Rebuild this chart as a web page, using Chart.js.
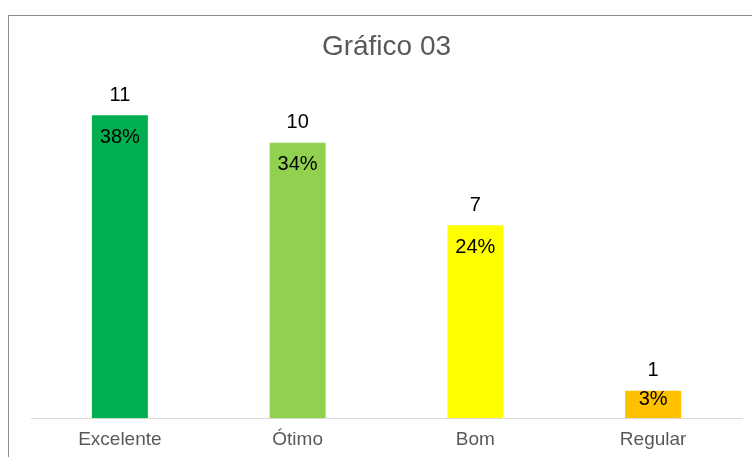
<!DOCTYPE html>
<html>
<head>
<meta charset="utf-8">
<script src="https://cdn.jsdelivr.net/npm/chart.js@4"></script>
<style>
  html,body{margin:0;padding:0;background:#fff;overflow:hidden}
  #wrap{position:absolute;left:0;top:0;width:752px;height:457px}
  #frame{position:absolute;left:8px;top:15px;width:800px;height:500px;border:1px solid #8c8c8c;box-sizing:border-box;pointer-events:none}
</style>
</head>
<body>
<div id="wrap">
  <div id="frame"></div>
  <canvas id="chart" width="752" height="457"></canvas>
</div>
<script>
const categories = ['Excelente', 'Ótimo', 'Bom', 'Regular'];
const counts = [11, 10, 7, 1];
const percentLabels = ['38%', '34%', '24%', '3%'];
const barColors = ['#00B050', '#92D050', '#FFFF00', '#FFC000'];

const FONT = '"Liberation Sans", Arial, sans-serif';

// draws the count above each bar and the percentage just inside its top
const barLabels = {
  id: 'barLabels',
  afterDatasetsDraw(chart){
    const ctx = chart.ctx;
    const meta = chart.getDatasetMeta(0);
    const base = chart.scales.y.getPixelForValue(0);
    ctx.save();
    ctx.font = '20px ' + FONT;
    ctx.fillStyle = '#000';
    ctx.textAlign = 'center';
    ctx.textBaseline = 'middle';
    meta.data.forEach((bar, i)=>{
      ctx.fillText(String(counts[i]), bar.x, bar.y - 20);
      const py = Math.min(bar.y + 22, (bar.y + base)/2 - 5);
      ctx.fillText(percentLabels[i], bar.x, py);
    });
    ctx.restore();
  }
};

new Chart(document.getElementById('chart').getContext('2d'), {
  type: 'bar',
  data: {
    labels: categories,
    datasets: [{
      data: counts,
      backgroundColor: barColors,
      borderWidth: 0,
      categoryPercentage: 1,
      barPercentage: 0.315
    }]
  },
  options: {
    responsive: false,
    animation: false,
    layout: { padding: { left: 31, right: 10, top: 0, bottom: -4 } },
    plugins: {
      legend: { display: false },
      tooltip: { enabled: false },
      title: {
        display: true,
        text: 'Gráfico 03',
        color: '#595959',
        font: { family: FONT, size: 28, weight: 'normal' },
        padding: { top: 30, bottom: 24 }
      }
    },
    scales: {
      x: {
        grid: { display: false, drawTicks: false },
        border: { display: true, color: '#d9d9d9', width: 1 },
        ticks: {
          color: '#595959',
          padding: 10,
          font: { family: FONT, size: 19 }
        }
      },
      y: {
        display: false,
        min: 0,
        max: 12
      }
    }
  },
  plugins: [barLabels]
});
</script>
</body>
</html>
